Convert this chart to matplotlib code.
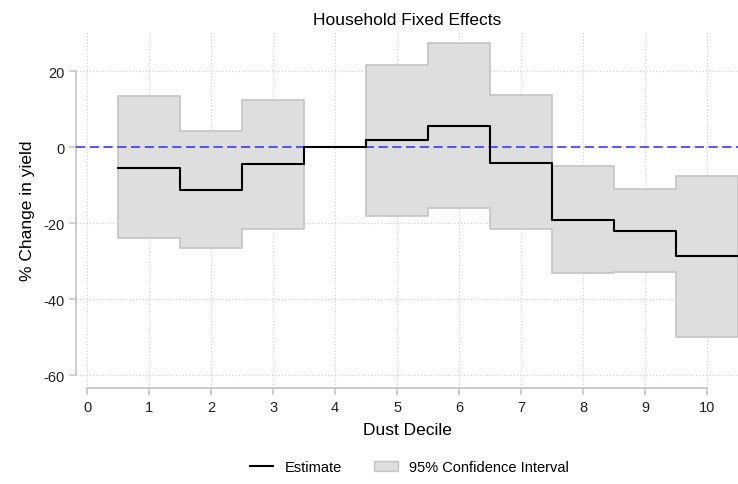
import numpy as np
import matplotlib
matplotlib.use("Agg")
import matplotlib.pyplot as plt
from matplotlib.patches import Patch
from matplotlib.lines import Line2D

plt.rcParams['font.family'] = ['Liberation Sans', 'DejaVu Sans']
plt.rcParams['axes.unicode_minus'] = False

deciles = [1, 2, 3, 4, 5, 6, 7, 8, 9, 10]
estimate = [-5.4, -11.2, -4.5, 0.0, 1.8, 5.6, -4.1, -19.1, -21.9, -28.5]
ci_upper = [13.4, 4.3, 12.3, 0.0, 21.5, 27.4, 13.6, -5.0, -11.0, -7.6]
ci_lower = [-24.0, -26.4, -21.4, 0.0, -18.0, -16.1, -21.5, -33.2, -32.9, -49.8]

# each decile spans +-0.5 around its centre
xs, est, up, lo = [], [], [], []
for d, e, u, l in zip(deciles, estimate, ci_upper, ci_lower):
    xs += [d - 0.5, d + 0.5]
    est += [e, e]
    up += [u, u]
    lo += [l, l]

fig = plt.figure(figsize=(7.38, 4.85), dpi=100)
ax = fig.add_axes([0.103, 0.198, 0.897, 0.734])

grey = '#c4c4c4'
ax.fill_between(xs, lo, up, facecolor='#dedede', edgecolor=grey, linewidth=1.2, zorder=2)
ax.plot(xs, est, color='black', linewidth=1.5, zorder=4)
ax.axhline(0, color='#2a2aff', linestyle=(0, (6, 3)), linewidth=1.1, zorder=3)

ax.set_xlim(-0.18, 10.5)
ax.set_ylim(-63.3, 30.3)
ax.set_xticks(range(0, 11))
ax.set_yticks([-60, -40, -20, 0, 20])
ax.grid(True, color='#d4d4d4', linestyle=':', linewidth=0.9, zorder=0)

for s in ['top', 'right']:
    ax.spines[s].set_visible(False)
ax.spines['left'].set_bounds(-60, 20)
ax.spines['bottom'].set_bounds(0, 10)
for s in ['left', 'bottom']:
    ax.spines[s].set_color(grey)
    ax.spines[s].set_linewidth(1.2)
ax.tick_params(colors=grey, labelcolor='#222222', labelsize=10.5, length=5, width=1.1)

ax.set_title('Household Fixed Effects', fontsize=12.5, pad=6)
ax.set_xlabel('Dust Decile', fontsize=12.5, labelpad=6)
ax.set_ylabel('% Change in yield', fontsize=12.5, labelpad=6)

handles = [Line2D([0], [0], color='black', linewidth=1.5),
           Patch(facecolor='#dedede', edgecolor=grey)]
fig.legend(handles, ['Estimate', '95% Confidence Interval'], loc='center',
           bbox_to_anchor=(0.555, 0.035), ncol=2, frameon=False, fontsize=10.5,
           columnspacing=2.2, handlelength=1.6)

fig.savefig('out.png', dpi=100)
